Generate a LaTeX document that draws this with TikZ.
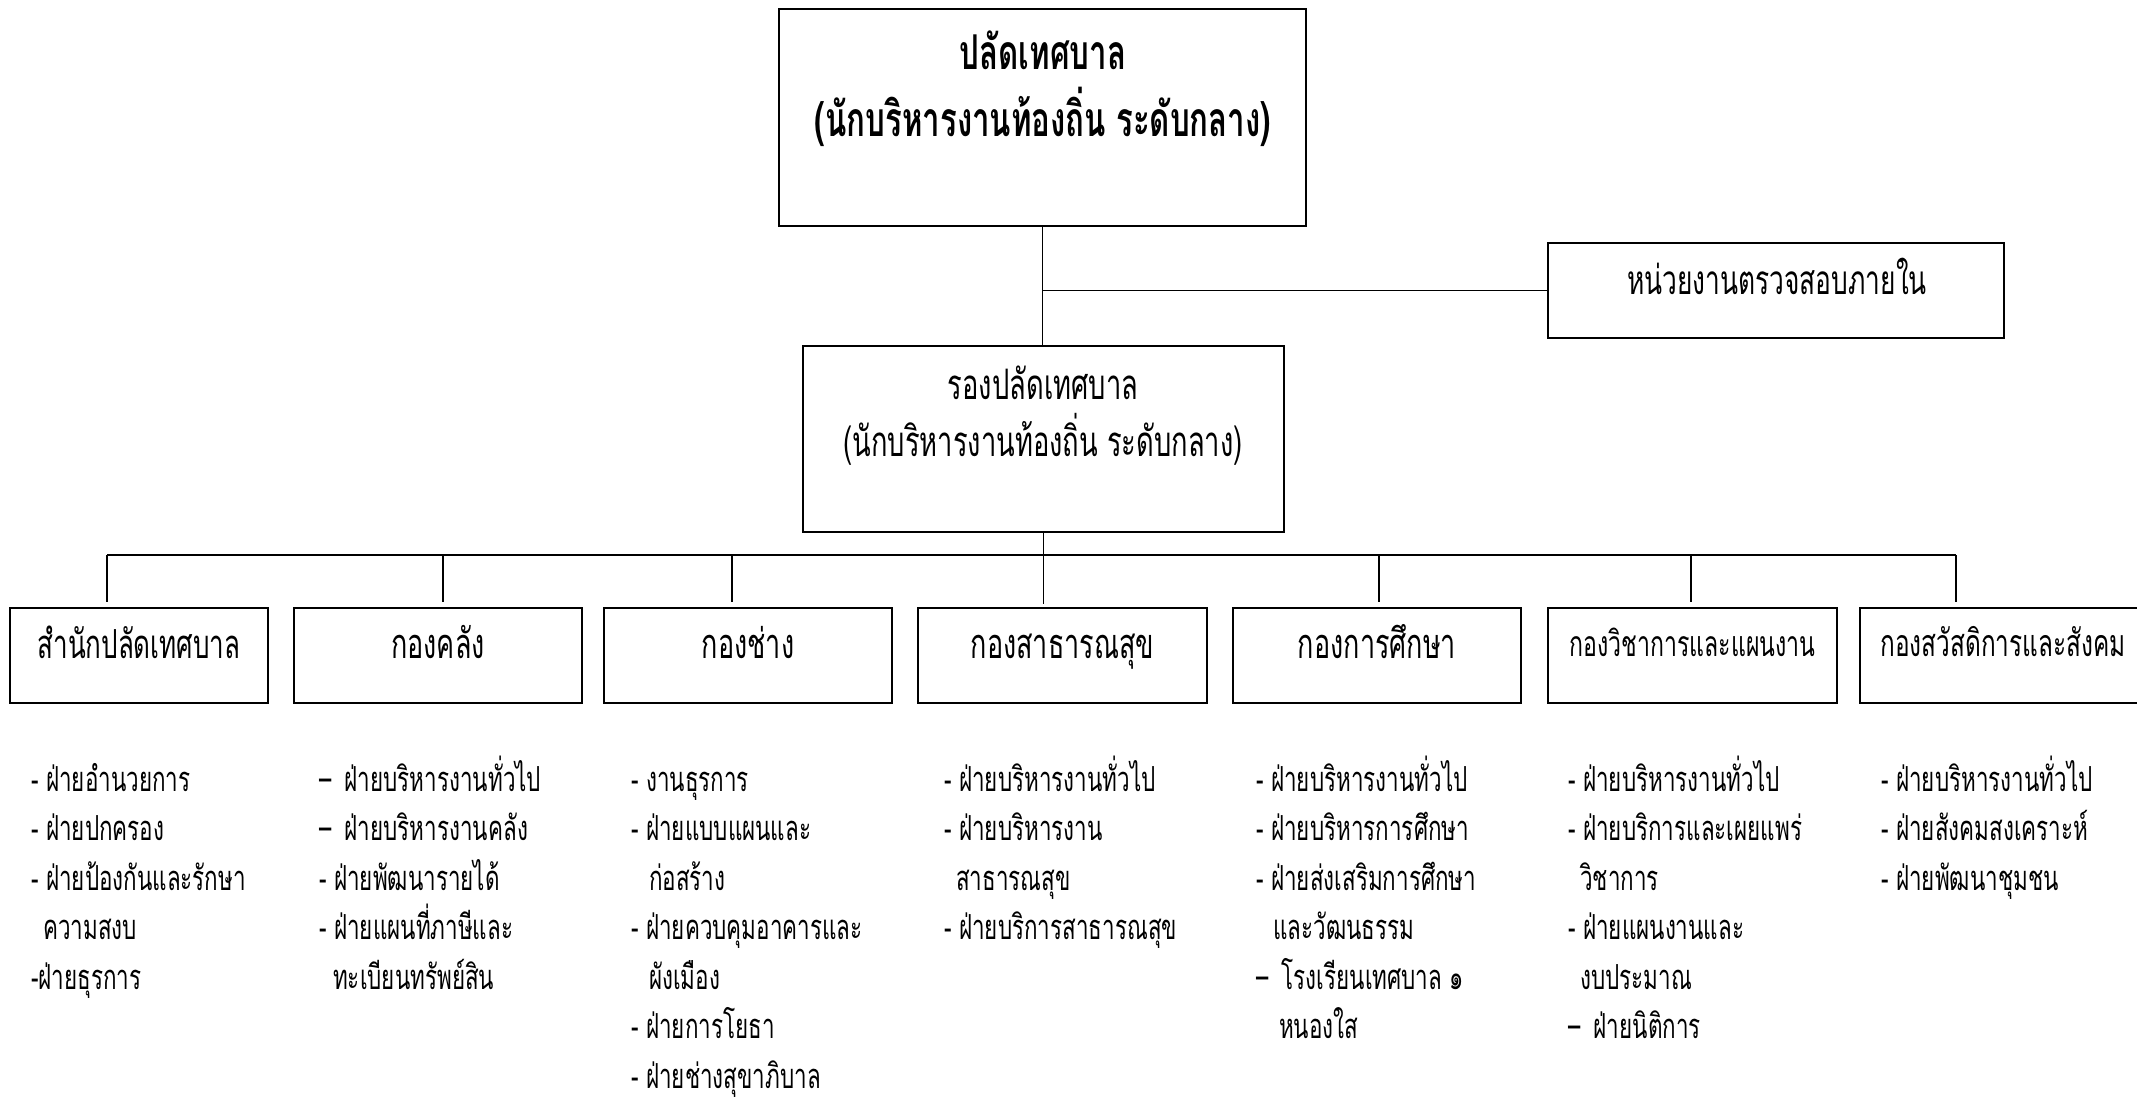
\documentclass[tikz,border=0pt]{standalone}
\usepackage{fontspec}
\setmainfont{Loma}[Script=Thai, FakeStretch=0.65]
\begin{document}
\begin{tikzpicture}[x=1pt,y=-1pt,
  box/.style={draw, line width=1.8pt, inner sep=0pt},
  conn/.style={line width=1.8pt},
  lbl/.style={inner sep=0pt, anchor=base, font=\fontsize{41.5}{41.5}\selectfont},
  lblbig/.style={inner sep=0pt, anchor=base, font=\fontsize{42}{42}\selectfont},
  lblbold/.style={inner sep=0pt, anchor=base, font=\fontsize{48}{48}\selectfont\bfseries},
  item/.style={inner sep=0pt, anchor=base west, font=\fontsize{34.5}{34.5}\selectfont}]
\useasboundingbox (0,0) rectangle (2137,1100);
\fill[white] (0,0) rectangle (2137,1100);

% top boxes
\node[box, minimum width=527, minimum height=217] (top) at (1042.5,117.5) {};
\node[lblbold] (topt1) at (1043,69) {ปลัดเทศบาล};
\node[lblbold] (topt2) at (1043,136) {(นักบริหารงานท้องถิ่น ระดับกลาง)};

\node[box, minimum width=456, minimum height=95] (audit) at (1776,290.5) {};
\node[lbl, font=\fontsize{40.5}{40.5}\selectfont] (auditt) at (1777,294) {หน่วยงานตรวจสอบภายใน};

\node[box, minimum width=481, minimum height=186] (vice) at (1043.5,439) {};
\node[lblbig] (vicet1) at (1043,399) {รองปลัดเทศบาล};
\node[lblbig] (vicet2) at (1043,456) {(นักบริหารงานท้องถิ่น ระดับกลาง)};

% division boxes
\node[box, minimum width=258, minimum height=95] (b1) at (139,655.5) {};
\node[box, minimum width=288, minimum height=95] (b2) at (438,655.5) {};
\node[box, minimum width=288, minimum height=95] (b3) at (748,655.5) {};
\node[box, minimum width=289, minimum height=95] (b4) at (1062.5,655.5) {};
\node[box, minimum width=288, minimum height=95] (b5) at (1377,655.5) {};
\node[box, minimum width=289, minimum height=95] (b6) at (1692.5,655.5) {};
\node[box, minimum width=288, minimum height=95] (b7) at (2004,655.5) {};

\node[lbl, font=\fontsize{40}{40}\selectfont] (b1t) at (139,658) {สำนักปลัดเทศบาล};
\node[lbl] (b2t) at (438,658) {กองคลัง};
\node[lbl] (b3t) at (748,658) {กองช่าง};
\node[lbl] (b4t) at (1062.5,658) {กองสาธารณสุข};
\node[lbl] (b5t) at (1377,658) {กองการศึกษา};
\node[lbl, font=\fontsize{35.5}{35.5}\selectfont] (b6t) at (1692.5,656) {กองวิชาการและแผนงาน};
\node[lbl, font=\fontsize{37.5}{37.5}\selectfont] (b7t) at (2003,656) {กองสวัสดิการและสังคม};

% connectors
\draw[conn] (top.south) -- (top.south |- vice.north);
\draw[conn] (top.south |- audit.west) -- (audit.west);
\draw[conn, shorten >=3pt] (vice.south) -- (vice.south |- b4.north);
\coordinate (d1) at (107,555);
\coordinate (d2) at (443,555);
\coordinate (d3) at (732,555);
\coordinate (d5) at (1379,555);
\coordinate (d6) at (1691,555);
\coordinate (d7) at (1956,555);
\draw[conn] (d1) -- (d7);
\foreach \i in {1,2,3,5,6,7}
  \draw[conn, shorten >=5pt] (d\i) -- (d\i |- b\i.north);

% lists
\foreach \x/\r/\t in {31/1/{- ฝ่ายอำนวยการ}, 31/2/{- ฝ่ายปกครอง}, 31/3/{- ฝ่ายป้องกันและรักษา}, 43/4/{ความสงบ}, 31/5/{-ฝ่ายธุรการ}}
  \node[item] (c1-\r) at (\x,791+49.5*\r-49.5) {\t};
\foreach \x/\r/\t in {319/1/{–\, ฝ่ายบริหารงานทั่วไป}, 319/2/{–\, ฝ่ายบริหารงานคลัง}, 319/3/{- ฝ่ายพัฒนารายได้}, 319/4/{- ฝ่ายแผนที่ภาษีและ}, 333/5/{ทะเบียนทรัพย์สิน}}
  \node[item] (c2-\r) at (\x,791+49.5*\r-49.5) {\t};
\foreach \x/\r/\t in {631/1/{- งานธุรการ}, 631/2/{- ฝ่ายแบบแผนและ}, 649/3/{ก่อสร้าง}, 631/4/{- ฝ่ายควบคุมอาคารและ}, 649/5/{ผังเมือง}, 631/6/{- ฝ่ายการโยธา}, 631/7/{- ฝ่ายช่างสุขาภิบาล}}
  \node[item] (c3-\r) at (\x,791+49.5*\r-49.5) {\t};
\foreach \x/\r/\t in {944/1/{- ฝ่ายบริหารงานทั่วไป}, 944/2/{- ฝ่ายบริหารงาน}, 956/3/{สาธารณสุข}, 944/4/{- ฝ่ายบริการสาธารณสุข}}
  \node[item] (c4-\r) at (\x,791+49.5*\r-49.5) {\t};
\foreach \x/\r/\t in {1256/1/{- ฝ่ายบริหารงานทั่วไป}, 1256/2/{- ฝ่ายบริหารการศึกษา}, 1256/3/{- ฝ่ายส่งเสริมการศึกษา}, 1273/4/{และวัฒนธรรม}, 1256/5/{–\, โรงเรียนเทศบาล ๑}, 1279/6/{หนองใส}}
  \node[item] (c5-\r) at (\x,791+49.5*\r-49.5) {\t};
\foreach \x/\r/\t in {1568/1/{- ฝ่ายบริหารงานทั่วไป}, 1568/2/{- ฝ่ายบริการและเผยแพร่}, 1580/3/{วิชาการ}, 1568/4/{- ฝ่ายแผนงานและ}, 1580/5/{งบประมาณ}, 1568/6/{–\, ฝ่ายนิติการ}}
  \node[item] (c6-\r) at (\x,791+49.5*\r-49.5) {\t};
\foreach \x/\r/\t in {1881/1/{- ฝ่ายบริหารงานทั่วไป}, 1881/2/{- ฝ่ายสังคมสงเคราะห์}, 1881/3/{- ฝ่ายพัฒนาชุมชน}}
  \node[item] (c7-\r) at (\x,791+49.5*\r-49.5) {\t};
\end{tikzpicture}
\end{document}
